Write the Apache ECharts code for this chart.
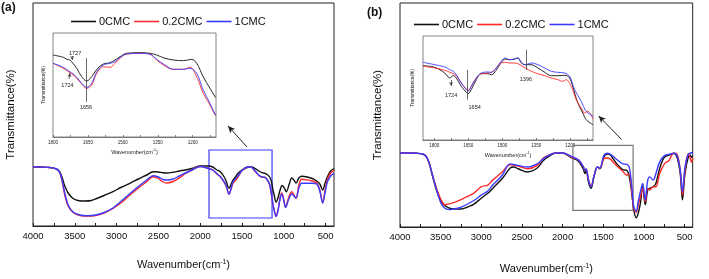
<!DOCTYPE html>
<html>
<head>
<meta charset="utf-8">
<script src="https://cdn.jsdelivr.net/npm/echarts@6/dist/echarts.min.js"></script>
<style>html,body{margin:0;padding:0;background:#fff;}#c{width:709px;height:279px;}</style>
</head>
<body>
<div id="c"></div>
<script>
// ---- DATA (wavenumber cm-1, transmittance arbitrary units) ----
const seriesNames = ['0CMC', '0.2CMC', '1CMC'];
const mainTickLabels = [4000, 3500, 3000, 2500, 2000, 1500, 1000, 500];
const mainTickMarks = [4000, 3750, 3500, 3250, 3000, 2750, 2500, 2250, 2000, 1750, 1500, 1250, 1000, 750, 500];
const insetTickLabels = [1800, 1650, 1500, 1350, 1200];
const insetTickMarks = [1800, 1725, 1650, 1575, 1500, 1425, 1350, 1275, 1200, 1125];

// Panel (a) main spectra
const a_0CMC = [[4000,59.3],[3900,59],[3800,58.5],[3720,57],[3680,54],[3650,48],[3620,40],[3580,33],[3520,27.5],[3450,25.3],[3380,25],[3300,25.5],[3238,27.5],[3150,30.5],[3043,34.3],[2950,38.5],[2840,42.7],[2740,47],[2640,51],[2563,54.3],[2500,54],[2445,53.3],[2400,53],[2325,53.7],[2250,55],[2180,56],[2100,57.5],[2000,60],[1900,60],[1850,59],[1800,56],[1760,54.3],[1720,50],[1690,45],[1656,37.7],[1630,42],[1608,46],[1575,49.5],[1548,52.7],[1500,56],[1440,58.5],[1400,59.3],[1348,57.7],[1300,55],[1260,53.3],[1228,52.7],[1200,51.5],[1170,49],[1148,44.3],[1130,36],[1116,31],[1093,24],[1070,28],[1045,36],[1020,40.5],[995,38],[970,34.3],[935,42],[905,48],[880,46],[854,43],[820,48],[786,49.7],[720,49],[660,47.5],[607,45],[570,42],[535,36],[510,42],[480,49],[440,55],[400,57.5]];
const a_02CMC = [[4000,59.3],[3900,59],[3800,58.5],[3720,57],[3680,53],[3650,44],[3620,31],[3580,20],[3520,13.5],[3440,10.5],[3350,10],[3250,10.5],[3150,13],[3043,17.7],[2950,23],[2840,31],[2740,38],[2640,44.3],[2563,49.3],[2500,47.5],[2445,44],[2400,43],[2325,44.5],[2250,48],[2180,52.3],[2100,56],[2000,59.5],[1900,57.5],[1850,56],[1800,52],[1760,49.3],[1720,44.5],[1690,40],[1656,31.7],[1630,37],[1608,42.7],[1575,46],[1548,49],[1500,55.5],[1440,59],[1400,59.3],[1348,55],[1300,50.5],[1260,48.7],[1228,48.7],[1200,46],[1170,41],[1148,31],[1130,21],[1116,16],[1093,10],[1070,16],[1045,28],[1025,33],[1000,26],[980,19],[940,29],[905,34.3],[880,31],[854,27.7],[820,41],[786,46.7],[720,46],[660,45],[607,43],[570,36],[535,23.3],[510,34],[480,46],[440,53],[400,55.3]];
const a_1CMC = [[4000,59.3],[3900,59],[3800,58.5],[3720,57],[3680,53.5],[3650,45],[3620,33],[3580,21],[3520,14],[3440,11],[3350,10.3],[3250,11],[3150,13.5],[3043,18],[2950,24.5],[2840,32.5],[2740,39.5],[2640,46],[2563,50.3],[2500,49],[2445,46.5],[2400,46],[2325,47],[2250,50],[2180,53],[2100,56],[2000,59.5],[1900,57.5],[1850,56],[1800,52.3],[1760,49.5],[1720,45],[1690,40.5],[1656,32],[1630,38],[1608,44],[1575,47.5],[1548,50],[1500,55.5],[1440,59],[1400,59.3],[1348,55.5],[1300,51],[1260,49],[1228,48.7],[1200,46.5],[1170,42],[1148,32],[1130,22],[1116,16],[1093,9.5],[1070,15],[1045,27],[1025,32],[1000,25],[980,18.5],[940,27],[905,32],[880,30],[854,28],[820,38],[786,42.7],[720,42.7],[660,42.7],[607,42],[570,35],[535,23],[510,32],[480,44],[440,50],[400,52.7]];

// Panel (a) inset (1800-1100)
const ai_0CMC = [[1800,82],[1756,79.7],[1740,77.7],[1727,77],[1720,75.3],[1698,68.7],[1677,60.3],[1655,56],[1634,60.3],[1612,67.7],[1584,73],[1555,74.3],[1534,77],[1512,80.3],[1484,83.7],[1426,84.3],[1384,83.7],[1355,82],[1319,78.7],[1283,77],[1240,76.3],[1205,77.7],[1183,73.7],[1155,60.3],[1126,48.7],[1104,40.3],[1100,39.3]];
const ai_02CMC = [[1800,73.7],[1756,68.7],[1728,64.3],[1720,63],[1698,58.7],[1677,53],[1655,48.7],[1634,52],[1612,63.7],[1584,70.3],[1555,69.7],[1534,73.7],[1512,78.7],[1484,83],[1426,83.7],[1384,83],[1355,77],[1319,71],[1283,67.7],[1240,67.7],[1212,69.7],[1183,60.3],[1155,43.7],[1126,32],[1104,22],[1100,21]];
const ai_1CMC = [[1800,73.7],[1756,69.7],[1728,65.3],[1720,64.3],[1698,59.7],[1677,53.7],[1655,49.7],[1634,53.7],[1612,65.3],[1584,72],[1555,73.7],[1534,75.3],[1512,79.7],[1484,83],[1426,83.7],[1384,82.7],[1355,77.7],[1319,72],[1283,67.7],[1240,67.7],[1212,68.7],[1183,63.7],[1155,47],[1126,33.7],[1104,22.7],[1100,21.7]];

// Panel (b) main spectra
const b_0CMC = [[4000,75.3],[3900,75.3],[3800,75],[3722,74.3],[3680,72],[3644,66],[3604,53],[3545,36],[3480,24],[3400,19.5],[3330,18.3],[3250,18.3],[3150,21],[3096,23],[3000,29.3],[2920,34.3],[2860,39.3],[2743,49.3],[2645,60],[2600,61],[2547,59.3],[2430,56],[2312,60],[2237,67.7],[2160,72.5],[2081,75.3],[2002,75.3],[1885,70.3],[1806,67],[1747,59.3],[1724,54.3],[1710,57.7],[1680,45],[1650,39.3],[1611,52.7],[1572,61],[1541,59.3],[1494,71],[1455,74.3],[1416,73.7],[1377,69.3],[1317,62.7],[1258,58.3],[1211,57.7],[1180,51],[1149,34.3],[1125,17.7],[1094,9.3],[1070,14],[1043,24.3],[1015,41],[984,22.7],[953,37.7],[929,39.3],[886,41],[853,44.3],[807,59.3],[748,71],[671,73.7],[632,75],[593,71],[553,54.3],[526,27.7],[495,54.3],[455,71],[430,73],[416,71],[400,72]];
const b_02CMC = [[4000,75.3],[3900,75.3],[3800,75],[3722,74.3],[3680,72],[3644,66],[3604,54],[3545,38],[3490,27],[3448,22.7],[3400,23.5],[3330,25],[3213,29.3],[3096,34.3],[2998,41],[2920,42.7],[2860,47.7],[2743,56],[2645,63.3],[2547,62],[2430,59.3],[2312,62.7],[2237,70.3],[2160,73.5],[2081,75.3],[2002,75.3],[1885,71],[1806,68.3],[1747,61.7],[1724,57.7],[1710,59],[1680,48],[1650,41.7],[1611,52.7],[1572,61],[1541,60],[1494,69.3],[1455,70.3],[1416,69.3],[1377,66],[1317,61],[1258,56.7],[1211,52.7],[1195,53.7],[1180,53.7],[1149,36],[1125,19.3],[1094,15],[1070,22],[1043,31],[1015,39.3],[984,26],[953,39.3],[929,37.7],[886,41],[853,41],[807,54.3],[748,64.3],[690,67.7],[671,71],[632,75],[593,74.3],[553,57.7],[526,32.7],[495,57.7],[455,74.3],[430,70],[416,66],[400,70]];
const b_1CMC = [[4000,75.3],[3900,75.3],[3800,75],[3722,74.3],[3680,72],[3644,66],[3604,54],[3545,36.5],[3480,22],[3390,17.7],[3330,18.5],[3253,20],[3096,26.7],[2998,32.7],[2920,36.7],[2860,42.7],[2743,52.7],[2645,64.3],[2547,62.7],[2430,61],[2312,64.3],[2237,69.3],[2160,73.5],[2081,75.3],[2002,75.3],[1885,71.7],[1806,68.3],[1747,61.7],[1724,57.7],[1710,59],[1680,47],[1650,41],[1611,52.7],[1572,61],[1541,60],[1494,72.7],[1455,75],[1416,74.3],[1377,71.7],[1317,67.7],[1258,64.3],[1211,63.7],[1180,61],[1149,41],[1125,21],[1094,16],[1070,26],[1043,36],[1015,44.3],[984,27.7],[953,47.7],[929,51],[886,47.7],[853,54.3],[807,66],[748,72.7],[671,74.3],[632,75],[593,72.7],[553,57.7],[526,36],[495,61],[455,74.3],[430,75],[416,76],[400,74]];

// Panel (b) inset (1850-1100)
const bi_0CMC = [[1850,74.3],[1798,72.7],[1754,67],[1739,63],[1732,62],[1717,64.3],[1703,62],[1681,53.7],[1659,47.7],[1651,46.3],[1637,50.3],[1615,60.3],[1593,66.3],[1563,66.3],[1548,65.3],[1527,69.7],[1505,77.7],[1487,81],[1468,80.3],[1446,81],[1431,82],[1416,77],[1399,75.3],[1372,75.3],[1343,72],[1313,67.7],[1284,64.3],[1255,64.3],[1225,64.7],[1203,62],[1181,47],[1167,37],[1145,27],[1130,20.3],[1100,15.3]];
const bi_02CMC = [[1850,73.7],[1798,72],[1754,69.7],[1732,67.7],[1717,66.3],[1703,64.3],[1681,57],[1659,51],[1651,49.7],[1637,53.7],[1615,62],[1593,66.3],[1563,67],[1548,67.7],[1527,72],[1505,77],[1487,77.7],[1468,77],[1446,77],[1431,76.3],[1399,72],[1372,68.7],[1343,66.3],[1313,64.3],[1284,62],[1255,60.3],[1233,58.7],[1218,60.3],[1196,53.7],[1174,40.3],[1152,32],[1137,27],[1123,28.7],[1100,21]];
const bi_1CMC = [[1850,77.7],[1798,75.3],[1754,73],[1732,70.3],[1717,68.7],[1703,65.3],[1681,57],[1659,50.3],[1651,48.7],[1637,53.7],[1615,62],[1593,67],[1563,68],[1548,67.7],[1527,72],[1505,78.7],[1487,82],[1468,80.3],[1446,81],[1431,82],[1416,77.7],[1399,75.3],[1372,77],[1343,75.3],[1313,72],[1284,68.7],[1255,67.7],[1225,67],[1203,63.7],[1181,50.3],[1152,38.7],[1130,28.7],[1100,23.7]];

// ---- CHART ----
const C_BLACK = '#111111', C_RED = '#ff2b2b', C_BLUE = '#3b3bff';
const FONT = 'Liberation Sans, Arial, sans-serif';
const chart = echarts.init(document.getElementById('c'), null, {renderer: 'canvas'});
const plain = (v) => String(v);

function line(name, data, idx, color, width, extra) {
  return Object.assign({
    type: 'line', name: name, data: data, xAxisIndex: idx, yAxisIndex: idx,
    symbol: 'none', smooth: 0.35, lineStyle: {color: color, width: width},
    itemStyle: {color: color}, silent: true
  }, extra || {});
}
const supRich = (fs) => ({ sup: {fontSize: fs * 0.62, verticalAlign: 'top', fontFamily: FONT, color: '#111'} });

function mainX(gi, nameGap) {
  return {
    type: 'value', gridIndex: gi, min: 400, max: 4000, inverse: true,
    axisLine: {show: true, lineStyle: {color: '#222', width: 1}},
    axisTick: {show: true, inside: true, length: 3, customValues: mainTickMarks, lineStyle: {color: '#222'}},
    axisLabel: {show: true, customValues: mainTickLabels, formatter: plain, fontSize: 9.5, color: '#111', margin: 5, fontFamily: FONT},
    splitLine: {show: false},
    name: 'Wavenumber(cm{sup|-1})', nameLocation: 'middle', nameGap: nameGap,
    nameTextStyle: {fontSize: 11, color: '#111', fontFamily: FONT, rich: supRich(11)}
  };
}
function insetX(gi, max) {
  return {
    type: 'value', gridIndex: gi, min: 1100, max: max, inverse: true,
    axisLine: {show: true, lineStyle: {color: '#666', width: 0.8}},
    axisTick: {show: true, inside: true, length: 2, customValues: insetTickMarks, lineStyle: {color: '#666', width: 0.8}},
    axisLabel: {show: true, customValues: insetTickLabels, formatter: plain, fontSize: 4.5, color: '#222', margin: 3, fontFamily: FONT},
    splitLine: {show: false},
    name: 'Wavenumber(cm{sup|-1})', nameLocation: 'middle', nameGap: 12,
    nameTextStyle: {fontSize: 5.5, color: '#222', fontFamily: FONT, rich: supRich(5.5)}
  };
}
function yAx(gi, max, fs, gap) {
  return {
    type: 'value', gridIndex: gi, min: 0, max: max,
    axisLine: {show: false}, axisTick: {show: false}, axisLabel: {show: false}, splitLine: {show: false},
    name: 'Transmittance(%)', nameLocation: 'middle', nameGap: gap,
    nameTextStyle: {fontSize: fs, color: '#111', fontFamily: FONT}
  };
}

const arrowLine = (from, to) => ({
  silent: true, symbol: ['none', 'arrow'], symbolSize: [5, 7], animation: false,
  lineStyle: {color: '#222', width: 1, type: 'solid'}, label: {show: false},
  data: [[{coord: from}, {coord: to}]]
});
const rectArea = (p1, p2, color, w) => ({
  silent: true, label: {show: false},
  itemStyle: {color: 'rgba(0,0,0,0)', borderColor: color, borderWidth: w},
  data: [[{coord: p1}, {coord: p2}]]
});
const textPoints = (items) => ({
  silent: true, symbol: 'circle', symbolSize: 1, itemStyle: {color: 'rgba(0,0,0,0)'},
  label: {show: true, position: 'inside', color: '#222', fontSize: 5.5, fontFamily: FONT, formatter: (p) => p.name},
  data: items.map(t => ({name: t[0], coord: [t[1], t[2]]}))
});
const insetMarks = (segs, arrows) => ({
  silent: true, symbol: ['none', 'none'], animation: false,
  lineStyle: {color: '#444', width: 0.8, type: 'solid'}, label: {show: false},
  data: segs.map(s => [{coord: s[0]}, {coord: s[1]}]).concat(
        arrows.map(s => [{coord: s[0], symbol: 'none'}, {coord: s[1], symbol: 'arrow', symbolSize: [3, 4]}]))
});

const legendCommon = {itemWidth: 25, itemHeight: 1.6, itemGap: 4, icon: 'rect', data: seriesNames,
  textStyle: {fontSize: 11, color: '#111', padding: [0, 0, 0, -2]}, selectedMode: false};

const option = {
  animation: false,
  textStyle: {fontFamily: FONT},
  legend: [
    Object.assign({left: 66, top: 11}, legendCommon),
    Object.assign({left: 409, top: 14}, legendCommon)
  ],
  grid: [
    {left: 33, top: 3, width: 301, height: 223, show: true, borderColor: '#222', borderWidth: 1, backgroundColor: '#fff'},
    {left: 53, top: 33, width: 163, height: 104, show: true, borderColor: '#666', borderWidth: 0.8, backgroundColor: '#fff'},
    {left: 400, top: 3, width: 307, height: 228, show: true, borderColor: '#222', borderWidth: 1, backgroundColor: '#fff'},
    {left: 423, top: 36, width: 170, height: 104, show: true, borderColor: '#666', borderWidth: 0.8, backgroundColor: '#fff'}
  ],
  xAxis: [mainX(0, 33), insetX(1, 1800), mainX(2, 36), insetX(3, 1850)],
  yAxis: [yAx(0, 223, 11.5, 16), yAx(1, 104, 4.8, 7), yAx(2, 228, 11.5, 16), yAx(3, 104, 4.8, 8)],
  graphic: [
    {type: 'text', left: 1, top: 2, style: {text: '(a)', font: 'bold 12px ' + FONT, fill: '#111'}},
    {type: 'text', left: 367, top: 7, style: {text: '(b)', font: 'bold 12px ' + FONT, fill: '#111'}}
  ],
  series: [
    line('0CMC', a_0CMC, 0, C_BLACK, 1.4, {
      markArea: rectArea([1895, 76], [1141, 8], C_BLUE, 1.2),
      markLine: arrowLine([1440, 79], [1667, 100])
    }),
    line('0.2CMC', a_02CMC, 0, C_RED, 1.4),
    line('1CMC', a_1CMC, 0, C_BLUE, 1.4),

    line('0CMC', ai_0CMC, 1, C_BLACK, 0.9, {
      markLine: insetMarks([[[1658, 79], [1658, 35]]], [[[1718, 81], [1718, 77]], [[1731, 58], [1727, 64]]]),
      markPoint: textPoints([['1727', 1705, 84], ['1724', 1738, 52], ['1656', 1658, 30]])
    }),
    line('0.2CMC', ai_02CMC, 1, C_RED, 0.9),
    line('1CMC', ai_1CMC, 1, C_BLUE, 0.9),

    line('0CMC', b_0CMC, 2, C_BLACK, 1.4, {
      markArea: rectArea([1873, 83], [1133, 17], '#777', 1.2),
      markLine: arrowLine([1274, 89], [1556, 113])
    }),
    line('0.2CMC', b_02CMC, 2, C_RED, 1.4),
    line('1CMC', b_1CMC, 2, C_BLUE, 1.4),

    line('0CMC', bi_0CMC, 3, C_BLACK, 0.9, {
      markLine: insetMarks([[[1654, 70.3], [1654, 40.3]], [[1396, 90.3], [1396, 70.3]]], [[[1726, 60], [1726, 54]]]),
      markPoint: textPoints([['1724', 1726, 45], ['1654', 1622, 33], ['1396', 1396, 60.3]])
    }),
    line('0.2CMC', bi_02CMC, 3, C_RED, 0.9),
    line('1CMC', bi_1CMC, 3, C_BLUE, 0.9)
  ]
};
chart.setOption(option);
</script>
</body>
</html>
